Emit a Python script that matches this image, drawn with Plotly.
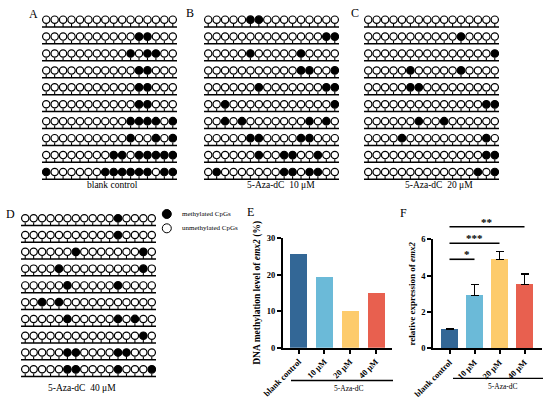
import plotly.graph_objects as go

W, H = 550, 399
SERIF = "Liberation Serif"

def fx(p):
    return p / W

def fy(p):
    return 1 - p / H

# ---------------- data ----------------
n_sites = 16
grid_A = ["0000000000000000", "0000000000011000", "0000000000101100", "0000000000011000",
          "0000000000011000", "0000000000011000", "0000000000111101", "0000000000100101",
          "0000000011011111", "1000000111111011"]
grid_B = ["0000011000000000", "0000000000000011", "0000010000010000", "0000000000011001",
          "0000001000000011", "0010000000000001", "0010100000001010", "0000011000011000",
          "0000001001100100", "0100000001101100"]
grid_C = ["0000000000000000", "0000000000010000", "0000000000000001", "0000010000010000",
          "0000011000000000", "0000000000000011", "0000001001000000", "0000100000000010",
          "0000000000000011", "0000000000000101"]
grid_D = ["0000000000010000", "0000000000010000", "0000001000000010", "0000100000000010",
          "0000010000010000", "0010100000000000", "0000010000010100", "0000000000000010",
          "0000011000011000", "0000011000010001"]
captions = ["blank control", "5-Aza-dC  10 μM", "5-Aza-dC  20 μM", "5-Aza-dC  40 μM"]

categories = ["blank control", "10 μM", "20 μM", "40 μM"]
methylation_pct = [25.6, 19.4, 10.0, 15.0]
expression_mean = [1.07, 2.92, 4.88, 3.50]
expression_err = [0.03, 0.60, 0.45, 0.58]
bar_colors = ["#336796", "#6BBAD8", "#FDCB6C", "#E8604F"]
sig_pairs = [(0, 1), (0, 2), (0, 3)]
sig_levels = [4.9, 5.78, 6.69]
sig_stars = ["*", "***", "**"]

# ---------------- layout geometry ----------------
grid_panels = [
    (grid_A, "", 42, 177, 11.2, 184.7, 112, 185, "A", (33, 14)),
    (grid_B, "2", 204, 339, 11.2, 184.7, 281, 185, "B", (190, 13)),
    (grid_C, "3", 364, 499, 11.2, 184.7, 439, 185, "C", (355, 13)),
    (grid_D, "4", 21, 156, 209.9, 381.9, 82, 388, "D", (10, 214)),
]

fig = go.Figure()
layout_axes = {}
annotations = []
shapes = []

STEM_TOP = 0.25
LINE_OFF = 0.43

for k, (grid, s, x0, x1, top, bot, cx, cy, letter, lxy) in enumerate(grid_panels):
    xa, ya = "x" + s, "y" + s
    lx, ly, sx, sy = [], [], [], []
    fxs, fys, oxs, oys = [], [], [], []
    for r, row in enumerate(grid):
        lx += [-0.5, n_sites - 0.5, None]
        ly += [-r - LINE_OFF, -r - LINE_OFF, None]
        for i, c in enumerate(row):
            sx += [i, i, None]
            sy += [-r - STEM_TOP, -r - LINE_OFF, None]
            if c == "1":
                fxs.append(i); fys.append(-r)
            else:
                oxs.append(i); oys.append(-r)
    fig.add_trace(go.Scatter(x=lx, y=ly, mode="lines", line=dict(color="black", width=1.5),
                             xaxis=xa, yaxis=ya, hoverinfo="skip"))
    fig.add_trace(go.Scatter(x=sx, y=sy, mode="lines", line=dict(color="black", width=1.1),
                             xaxis=xa, yaxis=ya, hoverinfo="skip"))
    fig.add_trace(go.Scatter(x=oxs, y=oys, mode="markers",
                             marker=dict(symbol="circle", size=7.3, color="white",
                                         line=dict(color="black", width=1.2)),
                             xaxis=xa, yaxis=ya, hoverinfo="skip"))
    fig.add_trace(go.Scatter(x=fxs, y=fys, mode="markers",
                             marker=dict(symbol="circle", size=7.5, color="black",
                                         line=dict(color="black", width=1.2)),
                             xaxis=xa, yaxis=ya, hoverinfo="skip"))
    layout_axes["xaxis" + s] = dict(domain=[fx(x0), fx(x1)], range=[-0.5, n_sites - 0.5],
                                    visible=False, anchor=ya)
    layout_axes["yaxis" + s] = dict(domain=[fy(bot), fy(top)], range=[-9.75, 0.5],
                                    visible=False, anchor=xa)
    annotations.append(dict(text=captions[k], x=fx(cx), y=fy(cy), xref="paper", yref="paper",
                            showarrow=False, font=dict(family=SERIF, size=9.5, color="black"),
                            xanchor="center", yanchor="middle"))
    annotations.append(dict(text=letter, x=fx(lxy[0]), y=fy(lxy[1]), xref="paper", yref="paper",
                            showarrow=False, font=dict(family=SERIF, size=12, color="black"),
                            xanchor="center", yanchor="middle"))

# legend
shapes.append(dict(type="circle", xref="paper", yref="paper", x0=fx(162.3), x1=fx(171.3),
                   y0=fy(218.5), y1=fy(209.5), fillcolor="black", line=dict(color="black", width=1)))
shapes.append(dict(type="circle", xref="paper", yref="paper", x0=fx(162.3), x1=fx(171.3),
                   y0=fy(232.8), y1=fy(223.8), fillcolor="white", line=dict(color="black", width=1)))
for txt, yy in [("methylated CpGs", 214), ("unmethylated CpGs", 228.3)]:
    annotations.append(dict(text=txt, x=fx(180), y=fy(yy), xref="paper", yref="paper",
                            showarrow=False, font=dict(family=SERIF, size=7, color="black"),
                            xanchor="left", yanchor="middle"))

# ---------------- bar charts ----------------
axis_common = dict(showline=True, linecolor="black", linewidth=1.6, ticks="outside",
                   ticklen=4, tickwidth=1.6, tickcolor="black", showgrid=False, zeroline=False,
                   tickfont=dict(family=SERIF, size=8.5, color="black", weight="bold"))

fig.add_trace(go.Bar(x=categories, y=methylation_pct, marker=dict(color=bar_colors, line=dict(width=0)),
                     width=0.66, xaxis="x5", yaxis="y5", hoverinfo="skip"))
fig.add_trace(go.Bar(x=categories, y=expression_mean, marker=dict(color=bar_colors, line=dict(width=0)),
                     width=0.68, xaxis="x6", yaxis="y6", hoverinfo="skip",
                     error_y=dict(type="data", array=expression_err, arrayminus=[0] * len(expression_err),
                                  symmetric=False, color="black", thickness=1.4, width=4)))

E_xr = [-0.62, 3.62]
F_xr = [-0.66, 3.70]
layout_axes["xaxis5"] = dict(axis_common, domain=[fx(282.7), fx(391.7)], range=E_xr, anchor="y5",
                             type="category", tickangle=-45)
layout_axes["yaxis5"] = dict(axis_common, domain=[fy(347.7), fy(238)], range=[0, 30], anchor="x5",
                             tickvals=[0, 10, 20, 30],
                             title=dict(text="DNA methylation level of <i>emx2</i> (%)", standoff=4,
                                        font=dict(family=SERIF, size=9.5, color="black", weight="bold")))
layout_axes["xaxis6"] = dict(axis_common, domain=[fx(433), fx(542)], range=F_xr, anchor="y6",
                             type="category", tickangle=-45)
layout_axes["yaxis6"] = dict(axis_common, domain=[fy(348.3), fy(239.3)], range=[0, 6], anchor="x6",
                             tickvals=[0, 2, 4, 6],
                             title=dict(text="relative expression of <i>emx2</i>", standoff=4,
                                        font=dict(family=SERIF, size=9, color="black", weight="bold")))

# significance brackets in F
for (a, b), lvl, st in zip(sig_pairs, sig_levels, sig_stars):
    xa_ = (a - F_xr[0]) / (F_xr[1] - F_xr[0])
    xb_ = (b - F_xr[0]) / (F_xr[1] - F_xr[0])
    shapes.append(dict(type="line", xref="x6 domain", yref="y6 domain", x0=xa_, x1=xb_,
                       y0=lvl / 6, y1=lvl / 6, line=dict(color="black", width=1.6)))
    annotations.append(dict(text=st, xref="x6 domain", yref="y6 domain", x=(xa_ + xb_) / 2,
                            y=lvl / 6, yanchor="bottom", showarrow=False, yshift=-3,
                            font=dict(family=SERIF, size=11, color="black", weight="bold")))

# treatment brackets
for (x0, x1, yl, tx, ty) in [(291, 393, 380.5, 349, 388.5), (453, 543, 378.3, 503, 386)]:
    shapes.append(dict(type="line", xref="paper", yref="paper", x0=fx(x0), x1=fx(x1),
                       y0=fy(yl), y1=fy(yl), line=dict(color="black", width=1.3)))
    annotations.append(dict(text="5-Aza-dC", x=fx(tx), y=fy(ty), xref="paper", yref="paper",
                            showarrow=False, font=dict(family=SERIF, size=7.5, color="black"),
                            xanchor="center", yanchor="middle"))

for letter, (lx_, ly_) in [("E", (250, 212)), ("F", (403, 213))]:
    annotations.append(dict(text=letter, x=fx(lx_), y=fy(ly_), xref="paper", yref="paper",
                            showarrow=False, font=dict(family=SERIF, size=12, color="black"),
                            xanchor="center", yanchor="middle"))

fig.update_layout(template="none", width=W, height=H, autosize=False,
                  margin=dict(l=0, r=0, t=0, b=0), font=dict(family=SERIF, color="black"),
                  paper_bgcolor="white", plot_bgcolor="white", showlegend=False,
                  annotations=annotations, shapes=shapes, bargap=0, **layout_axes)

fig.write_html("out.html", config={"displayModeBar": False},
               post_script="document.body.style.margin='0';")
